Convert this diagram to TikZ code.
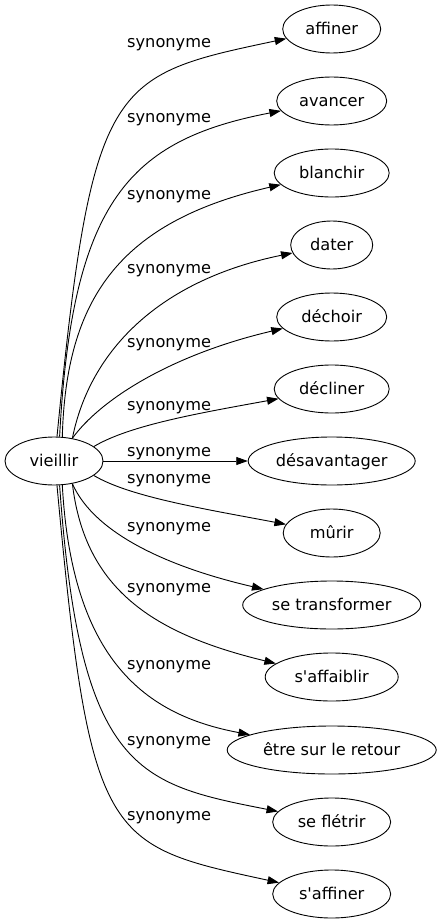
\documentclass[tikz,border=0pt]{standalone}
\usepackage{fontspec}
\newfontfamily\dv{DejaVu Sans}
\usetikzlibrary{shapes.geometric,arrows.meta}
\begin{document}
\begin{tikzpicture}[x=1pt,y=-1pt,
  term/.style={draw, ellipse, inner sep=0pt, line width=0.9pt, minimum height=48pt,
    text height=10.6pt, text depth=0pt, font=\dv\fontsize{16.2}{19}\selectfont},
  syn/.style={anchor=base west, inner sep=0pt, font=\dv\fontsize{16.2}{19}\selectfont},
  link/.style={line width=0.9pt, -{Triangle[length=11.5pt,width=8pt]}}]
\useasboundingbox (0,0) rectangle (441,923);
% nodes
\node[term, minimum width=98pt]  (v)   at (54,461)    {vieillir};
\node[term, minimum width=98pt]  (n1)  at (331.7,29)  {affiner};
\node[term, minimum width=110pt] (n2)  at (331.7,101) {avancer};
\node[term, minimum width=115pt] (n3)  at (331.7,173) {blanchir};
\node[term, minimum width=82pt]  (n4)  at (331.7,245) {dater};
\node[term, minimum width=110pt] (n5)  at (331.7,317) {déchoir};
\node[term, minimum width=115pt] (n6)  at (331.7,389) {décliner};
\node[term, minimum width=167pt] (n7)  at (331.7,461) {désavantager};
\node[term, minimum width=97pt]  (n8)  at (331.7,533) {mûrir};
\node[term, minimum width=178pt] (n9)  at (331.7,605) {se transformer};
\node[term, minimum width=133pt] (n10) at (331.7,677) {s\char39 affaiblir};
\node[term, minimum width=209pt] (n11) at (331.7,750) {être sur le retour};
\node[term, minimum width=118pt] (n12) at (331.7,822) {se flétrir};
\node[term, minimum width=118pt] (n13) at (331.7,894) {s\char39 affiner};
% edges
\draw[link] (v.83)  .. controls (92,79)   and (110,76)  .. (n1);
\draw[link] (v.77)  .. controls (72,200)  and (130,140) .. (n2);
\draw[link] (v.71)  .. controls (66,300)  and (118,222) .. (n3);
\draw[link] (v.51)  .. controls (90,350)  and (160,280) .. (n4);
\draw[link] (v.51)  .. controls (100,400) and (170,355) .. (n5);
\draw[link] (v.20)  .. controls (130,425) and (200,413) .. (n6);
\draw[link] (v) -- (n7);
\draw[link] (v.-20) .. controls (130,497) and (205,509) .. (n8);
\draw[link] (v.-51) .. controls (95,535)  and (172,568) .. (n9);
\draw[link] (v.-51) .. controls (85,590)  and (154,634) .. (n10);
\draw[link] (v.-71) .. controls (72,660)  and (145,715) .. (n11);
\draw[link] (v.-77) .. controls (80,772)  and (138,784) .. (n12);
\draw[link] (v.-83) .. controls (90,843)  and (105,845) .. (n13);
% labels
\node[syn] (l1)  at (127,48)  {synonyme};
\node[syn] (l2)  at (127,123) {synonyme};
\node[syn] (l3)  at (127,199) {synonyme};
\node[syn] (l4)  at (127,273) {synonyme};
\node[syn] (l5)  at (127,347) {synonyme};
\node[syn] (l6)  at (127,410) {synonyme};
\node[syn] (l7)  at (127,456) {synonyme};
\node[syn] (l8)  at (127,483) {synonyme};
\node[syn] (l9)  at (127,531) {synonyme};
\node[syn] (l10) at (127,592) {synonyme};
\node[syn] (l11) at (127,669) {synonyme};
\node[syn] (l12) at (127,745) {synonyme};
\node[syn] (l13) at (127,820) {synonyme};
\end{tikzpicture}
\end{document}
